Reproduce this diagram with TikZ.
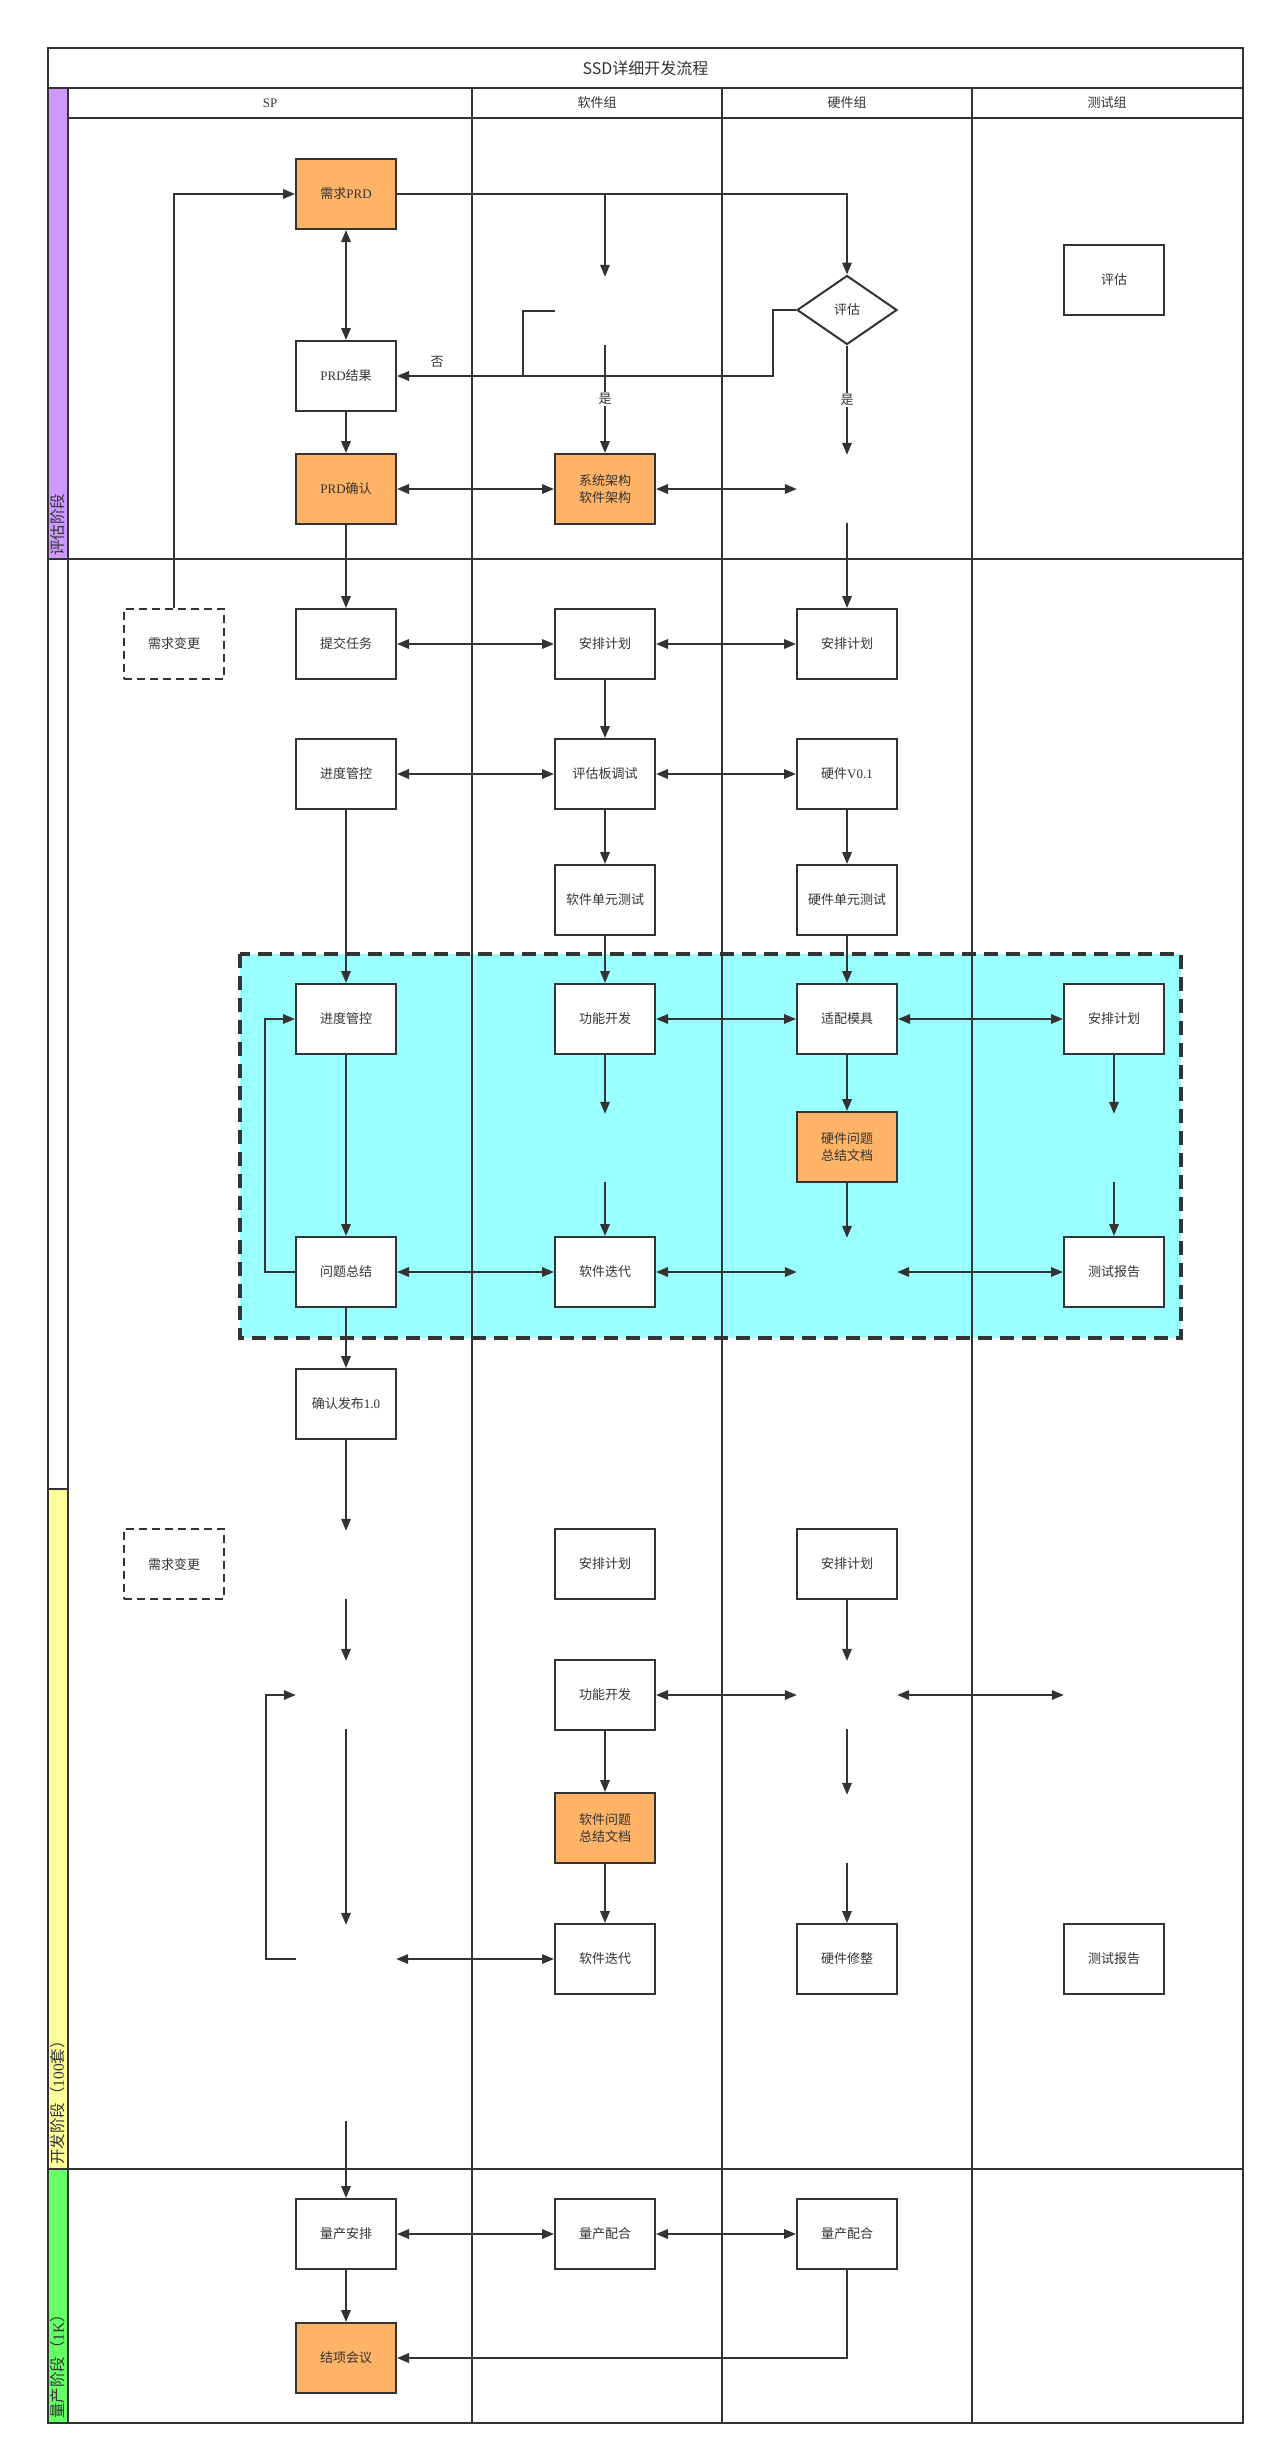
\documentclass[tikz,border=0pt]{standalone}
\usepackage{fontspec}
\setmainfont{Noto Sans CJK SC}
\newfontfamily\lat{Liberation Serif}
\usepackage{tikz}
\usetikzlibrary{arrows.meta,shapes.geometric,positioning}
\definecolor{ink}{HTML}{333333}
\definecolor{orng}{HTML}{FFB366}
\definecolor{lila}{HTML}{CC99FF}
\definecolor{ylw}{HTML}{FFFF99}
\definecolor{grn}{HTML}{66FF66}
\definecolor{cyn}{HTML}{99FFFF}

\begin{document}
\begin{tikzpicture}
	[x=1pt,y=-1pt,
	proc/.style={rectangle,draw=ink,fill=white,line width=2pt,text=ink,
		inner sep=0pt,minimum width=100pt,minimum height=70pt,align=center,
		font=\fontsize{13}{17}\selectfont},
	proc1/.style={proc,fill=orng},
	proc2/.style={proc,dash pattern=on 8pt off 5pt},
	dec/.style={diamond,draw=ink,fill=white,line width=2pt,text=ink,
		inner sep=0pt,minimum width=100pt,minimum height=69pt,
		font=\fontsize{13}{17}\selectfont},
	hole/.style={rectangle,inner sep=0pt,minimum width=100pt,minimum height=68pt},
	lbl/.style={fill=white,inner sep=1.5pt,text=ink,font=\fontsize{13}{15}\selectfont},
	phase/.style={rotate=90,anchor=west,inner sep=1pt,text=ink,
		font=\fontsize{15.5}{17}\selectfont},
	lane/.style={draw=ink,line width=2pt},
	ln/.style={draw=ink,line width=1.9pt},
	arr/.style={ln,-{Triangle[length=12pt,width=9.5pt]}},
	arr2/.style={ln,{Triangle[length=12pt,width=9.5pt]}-{Triangle[length=12pt,width=9.5pt]}}]
	\fill[white] (0,0) rectangle (1275,2455);
	\useasboundingbox (0,0) rectangle (1275,2455);
	% fases
	\fill[lila] (48,88) rectangle (68,559);
	\fill[ylw] (48,1489) rectangle (68,2169);
	\fill[grn] (48,2169) rectangle (68,2423);
	\fill[cyn] (240,954) rectangle (1181,1338);
	% carriles
	\draw[lane] (48,48) rectangle (1243,2423);
	\draw[lane] (48,88) -- (1243,88);
	\draw[lane] (68,117.7) -- (1243,117.7);
	\draw[lane] (68,88) -- (68,2423);
	\draw[lane] (472,88) -- (472,2423);
	\draw[lane] (722,88) -- (722,2423);
	\draw[lane] (972,88) -- (972,2423);
	\draw[lane] (48,559) -- (1243,559);
	\draw[lane] (48,1489) -- (68,1489);
	\draw[lane] (48,2169) -- (1243,2169);
	\draw[ink,line width=3.5pt,dash pattern=on 14pt off 8pt] (240,954) rectangle (1181,1338);
	\node[text=ink,font=\fontsize{16}{18}\selectfont] (title) at (645.5,68) {SSD详细开发流程};
	\node[lbl] (hsp) at (270,103) {{\lat SP}};
	\node[lbl] (hsw) at (597,103) {软件组};
	\node[lbl] (hhw) at (847,103) {硬件组};
	\node[lbl] (hts) at (1107,103) {测试组};
	\node[phase] (ph1) at (58,557) {评估阶段};
	\node[phase] (ph2) at (58,2166) {开发阶段（{\lat 100}套）};
	\node[phase] (ph3) at (58,2420) {量产阶段（{\lat 1K}）};
	%评估阶段
	\node[proc1] (prd) at (346,194) {需求{\lat PRD}};
	\node[proc] (prdres) at (346,376) {{\lat PRD}结果};
	\node[proc1] (prdok) at (346,489) {{\lat PRD}确认};
	\node[hole] (swev) at (605,311) {};
	\node[proc1] (arch) at (605,489) {系统架构\\软件架构};
	\node[dec] (hwev) at (847,310) {评估};
	\node[hole] (hwarch) at (847,489) {};
	\node[proc] (tsev) at (1114,280) {评估};
	\coordinate (join) at (523,376);
	\draw[arr] (prd.east) -| (hwev.north);
	\draw[arr] (swev.north |- prd.east) -- (swev.north);
	\draw[arr2] (prd.south) -- (prdres.north);
	\draw[arr] (prdres.south) -- (prdok.north);
	\draw[arr] (hwev.west) -- ++(-23,0) |- (prdres.east);
	\node[lbl,fill=none] (no) at (437,362) {否};
	\draw[ln] (swev.west) -| (join);
	\draw[arr] (swev.south) -- node[lbl] (yes1) {是} (arch.north);
	\draw[arr] (hwev.south) -- node[lbl] (yes2) {是} (hwarch.north);
	\draw[arr2] (prdok.east) -- (arch.west);
	\draw[arr2] (arch.east) -- (hwarch.west);
	% 开发阶段
	\node[proc2] (chg1) at (174,644) {需求变更};
	\node[proc] (submit) at (346,644) {提交任务};
	\node[proc] (swplan) at (605,644) {安排计划};
	\node[proc] (hwplan) at (847,644) {安排计划};
	\node[proc] (ctrl1) at (346,774) {进度管控};
	\node[proc] (evb) at (605,774) {评估板调试};
	\node[proc] (hwv) at (847,774) {硬件{\lat V0.1}};
	\node[proc] (swut) at (605,900) {软件单元测试};
	\node[proc] (hwut) at (847,900) {硬件单元测试};
	\draw[arr] (chg1.north) |- (prd.west);
	\draw[arr] (prdok.south) -- (submit.north);
	\draw[arr] (hwarch.south) -- (hwplan.north);
	\draw[arr2] (submit.east) -- (swplan.west);
	\draw[arr2] (swplan.east) -- (hwplan.west);
	\draw[arr] (swplan.south) -- (evb.north);
	\draw[arr] (evb.south) -- (swut.north);
	\draw[arr2] (ctrl1.east) -- (evb.west);
	\draw[arr2] (evb.east) -- (hwv.west);
	\draw[arr] (hwv.south) -- (hwut.north);
	% bloque cian
	\node[proc] (ctrl2) at (346,1019) {进度管控};
	\node[proc] (feat1) at (605,1019) {功能开发};
	\node[proc] (mold) at (847,1019) {适配模具};
	\node[proc] (tsplan1) at (1114,1019) {安排计划};
	\node[hole] (swh1) at (605,1148) {};
	\node[proc1] (hwdoc) at (847,1147) {硬件问题\\总结文档};
	\node[hole] (tsh1) at (1114,1148) {};
	\node[proc] (issue) at (346,1272) {问题总结};
	\node[proc] (swit1) at (605,1272) {软件迭代};
	\node[hole] (hwh1) at (847,1272) {};
	\node[proc] (tsrep1) at (1114,1272) {测试报告};
	\node[proc] (rel) at (346,1404) {确认发布{\lat 1.0}};
	\draw[arr] (ctrl1.south) -- (ctrl2.north);
	\draw[arr] (swut.south) -- (feat1.north);
	\draw[arr] (hwut.south) -- (mold.north);
	\draw[arr] (ctrl2.south) -- (issue.north);
	\draw[arr] (issue.west) -- ++(-30,0) |- (ctrl2.west);
	\draw[arr] (feat1.south) -- (swh1.north);
	\draw[arr] (swh1.south) -- (swit1.north);
	\draw[arr2] (feat1.east) -- (mold.west);
	\draw[arr2] (mold.east) -- (tsplan1.west);
	\draw[arr] (mold.south) -- (hwdoc.north);
	\draw[arr] (hwdoc.south) -- (hwh1.north);
	\draw[arr] (tsplan1.south) -- (tsh1.north);
	\draw[arr] (tsh1.south) -- (tsrep1.north);
	\draw[arr2] (issue.east) -- (swit1.west);
	\draw[arr2] (swit1.east) -- (hwh1.west);
	\draw[arr2] (hwh1.east) -- (tsrep1.west);
	\draw[arr] (issue.south) -- (rel.north);
	% segunda parte
	\node[hole] (sph1) at (346,1565) {};
	\node[proc2] (chg2) at (174,1564) {需求变更};
	\node[proc] (swplan2) at (605,1564) {安排计划};
	\node[proc] (hwplan2) at (847,1564) {安排计划};
	\node[hole] (sph2) at (346,1695) {};
	\node[proc] (feat2) at (605,1695) {功能开发};
	\node[hole] (hwh2) at (847,1695) {};
	\node[hole] (tsh2) at (1114,1695) {};
	\node[proc1] (swdoc) at (605,1828) {软件问题\\总结文档};
	\node[hole] (hwh3) at (847,1829) {};
	\node[hole] (sph3) at (346,1959) {};
	\node[proc] (swit2) at (605,1959) {软件迭代};
	\node[proc] (hwfix) at (847,1959) {硬件修整};
	\node[proc] (tsrep2) at (1114,1959) {测试报告};
	\node[hole] (sph4) at (346,2087) {};
	\draw[arr] (rel.south) -- (sph1.north);
	\draw[arr] (sph1.south) -- (sph2.north);
	\draw[arr] (sph2.south) -- (sph3.north);
	\draw[arr] (sph3.west) -- ++(-30,0) |- (sph2.west);
	\draw[arr2] (sph3.east) -- (swit2.west);
	\draw[arr2] (feat2.east) -- (hwh2.west);
	\draw[arr2] (hwh2.east) -- (tsh2.west);
	\draw[arr] (feat2.south) -- (swdoc.north);
	\draw[arr] (swdoc.south) -- (swit2.north);
	\draw[arr] (hwplan2.south) -- (hwh2.north);
	\draw[arr] (hwh2.south) -- (hwh3.north);
	\draw[arr] (hwh3.south) -- (hwfix.north);
	% 量产阶段
	\node[proc] (mpplan) at (346,2234) {量产安排};
	\node[proc] (mpsw) at (605,2234) {量产配合};
	\node[proc] (mphw) at (847,2234) {量产配合};
	\node[proc1] (close) at (346,2358) {结项会议};
	\draw[arr] (sph4.south) -- (mpplan.north);
	\draw[arr2] (mpplan.east) -- (mpsw.west);
	\draw[arr2] (mpsw.east) -- (mphw.west);
	\draw[arr] (mpplan.south) -- (close.north);
	\draw[arr] (mphw.south) |- (close.east);
\end{tikzpicture}
\end{document}
